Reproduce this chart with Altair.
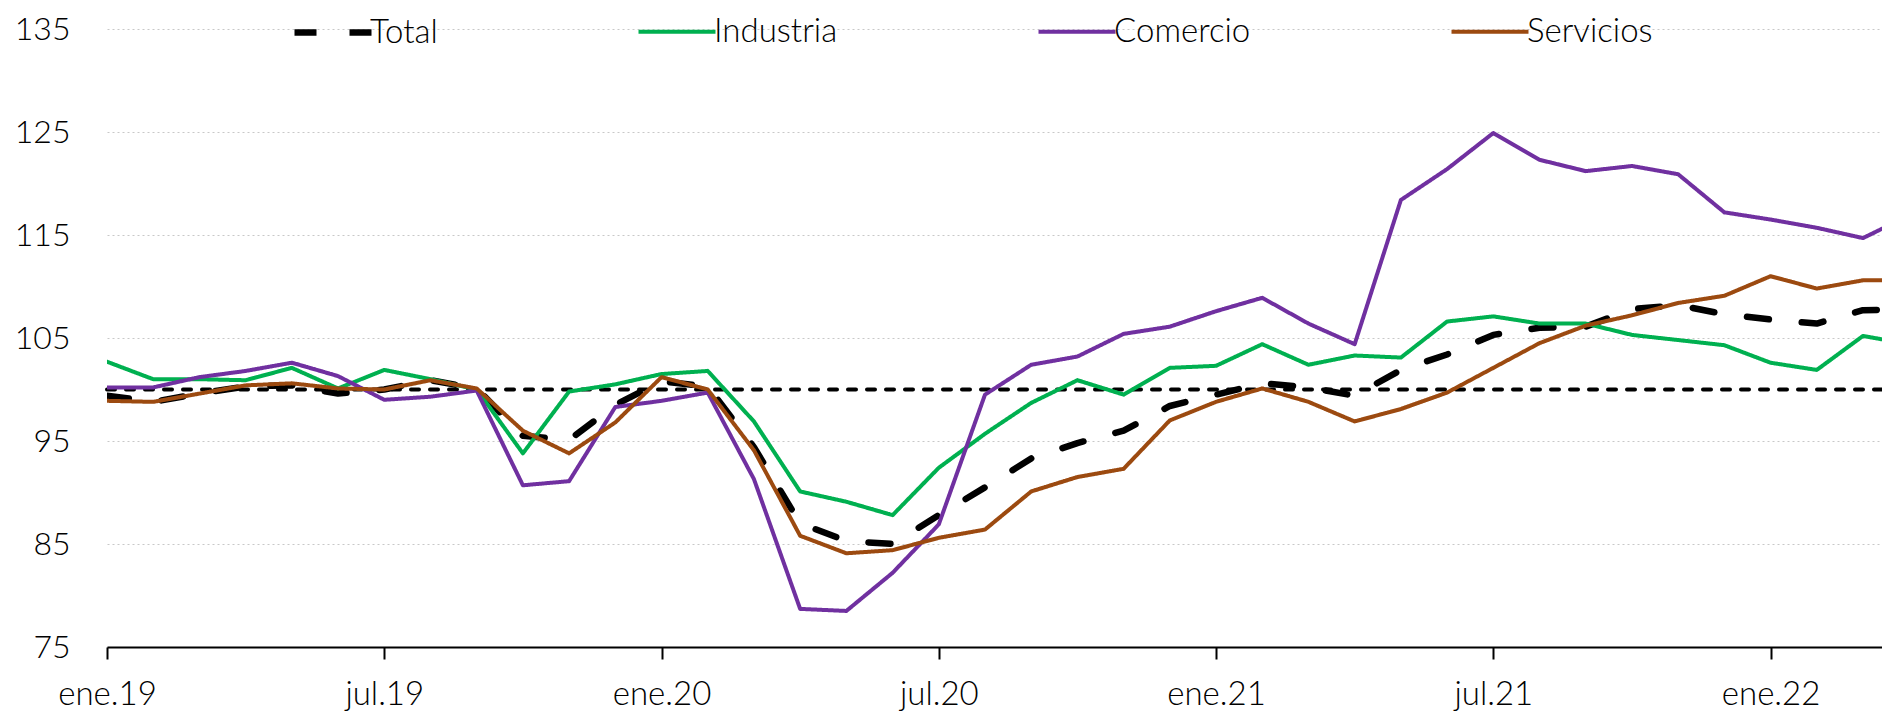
import altair as alt
import pandas as pd

# ---------------- data ----------------
series_names = ["Total", "Industria", "Comercio", "Servicios"]
series_colors = ["#000000", "#00B050", "#7030A0", "#9C4A10"]

month_names = ["ene", "feb", "mar", "abr", "may", "jun", "jul", "ago", "sep", "oct", "nov", "dic"]
years = ["19", "20", "21", "22"]

tick_labels = ["ene.19", "jul.19", "ene.20", "jul.20", "ene.21", "jul.21", "ene.22"]
y_ticks = [75, 85, 95, 105, 115, 125, 135]
ref_value = [100]

total = [99.4, 98.8, 99.6, 100.3, 100.4, 99.6, 100.0, 100.9, 100.1, 95.5,
         95.1, 98.5, 100.8, 100.3, 94.4, 87.0, 85.3, 85.0, 87.8, 90.5,
         93.3, 94.8, 96.0, 98.4, 99.5, 100.6, 100.2, 99.4, 101.9, 103.4,
         105.3, 106.0, 106.1, 107.8, 108.2, 107.3, 106.8, 106.4, 107.7, 107.8]

industria = [102.7, 101.0, 101.0, 100.9, 102.1, 100.1, 101.9, 101.0, 100.0, 93.8,
             99.8, 100.5, 101.5, 101.8, 96.9, 90.1, 89.1, 87.8, 92.4, 95.7,
             98.7, 100.9, 99.5, 102.1, 102.3, 104.4, 102.4, 103.3, 103.1, 106.6,
             107.1, 106.4, 106.4, 105.3, 104.8, 104.3, 102.6, 101.9, 105.2, 104.4]

comercio = [100.2, 100.2, 101.2, 101.8, 102.6, 101.3, 99.0, 99.3, 99.9, 90.7,
            91.1, 98.3, 98.9, 99.7, 91.3, 78.7, 78.5, 82.2, 86.9, 99.5,
            102.4, 103.2, 105.4, 106.1, 107.6, 108.9, 106.4, 104.4, 118.4, 121.4,
            124.9, 122.3, 121.2, 121.7, 120.9, 117.2, 116.5, 115.7, 114.7, 116.9]

servicios = [98.9, 98.8, 99.6, 100.4, 100.6, 100.1, 100.0, 100.9, 100.1, 96.0,
             93.8, 96.8, 101.2, 100.0, 94.1, 85.8, 84.1, 84.4, 85.6, 86.4,
             90.1, 91.5, 92.3, 97.0, 98.8, 100.1, 98.8, 96.9, 98.1, 99.7,
             102.1, 104.5, 106.2, 107.2, 108.4, 109.1, 111.0, 109.8, 110.6, 110.6]

# ---------------- build table ----------------
months = [f"{m}.{y}" for y in years for m in month_names][:len(total)]
rows = []
for name, vals in zip(series_names, [total, industria, comercio, servicios]):
    for i, v in enumerate(vals):
        rows.append({"mes": i, "fecha": months[i], "serie": name, "valor": v})
df = pd.DataFrame(rows)
ref_df = pd.DataFrame({"valor": ref_value})

# ---------------- layout ----------------
FONT = "Lato"
FS = 33
PLOT_W = 1775
PLOT_H = 618
PX_PER_MONTH = 46.21
XMAX = PLOT_W / PX_PER_MONTH
SYM_LEN = 77

x_scale = alt.Scale(domain=[0, XMAX], nice=False, zero=False)
y_scale = alt.Scale(domain=[75, 135], nice=False, zero=False)

label_expr = "[" + ",".join(f"'{t}'" for t in tick_labels) + "][round(datum.value / 6)]"

x_axis = alt.Axis(
    values=[6 * k for k in range(len(tick_labels))],
    labelExpr=label_expr,
    title=None,
    grid=False,
    domainColor="black",
    domainWidth=2,
    tickColor="black",
    tickWidth=2,
    tickSize=12,
    labelFont=FONT,
    labelFontSize=FS,
    labelFontWeight=300,
    labelColor="black",
    labelPadding=19,
    labelFlush=False,
    labelOverlap=False,
)
y_axis = alt.Axis(
    values=y_ticks,
    title=None,
    domain=False,
    ticks=False,
    grid=True,
    gridColor="#C8C8C8",
    gridDash=[2, 3],
    gridWidth=1,
    labelFont=FONT,
    labelFontSize=32,
    labelFontWeight=300,
    labelColor="black",
    labelPadding=37,
)

legend = alt.Legend(
    title=None,
    orient="none",
    legendX=184,
    legendY=-SYM_LEN / 2,
    direction="horizontal",
    columns=4,
    columnPadding=192,
    padding=0,
    symbolType="stroke",
    symbolSize=SYM_LEN * SYM_LEN,
    labelFont=FONT,
    labelFontSize=FS,
    labelFontWeight=300,
    labelColor="black",
    labelOffset={"expr": "-5"},
    labelLimit=400,
)

ref = alt.Chart(ref_df).mark_rule(
    color="black", strokeWidth=4, strokeDash=[8, 11], strokeCap="round"
).encode(y=alt.Y("valor:Q", scale=y_scale, axis=y_axis))

lines = alt.Chart(df).mark_line(clip=True, strokeCap="round", strokeJoin="round").encode(
    x=alt.X("mes:Q", scale=x_scale, axis=x_axis),
    y=alt.Y("valor:Q", scale=y_scale, axis=y_axis),
    color=alt.Color("serie:N", scale=alt.Scale(domain=series_names, range=series_colors), legend=legend),
    strokeDash=alt.StrokeDash(
        "serie:N",
        scale=alt.Scale(domain=series_names, range=[[22, 33], [1, 0], [1, 0], [1, 0]]),
        legend=legend,
    ),
    strokeWidth=alt.StrokeWidth(
        "serie:N",
        scale=alt.Scale(type="ordinal", domain=series_names, range=[6.5, 4, 4, 4]),
        legend=legend,
    ),
    detail="serie:N",
)

chart = alt.layer(ref, lines).properties(
    width=PLOT_W,
    height=PLOT_H,
    autosize=alt.AutoSizeParams(type="none"),
    padding={"left": 99, "top": 21, "right": 0, "bottom": 65},
    background="white",
).configure_view(stroke=None)

chart.save("out.html", embed_options={"renderer": "svg", "actions": False})
